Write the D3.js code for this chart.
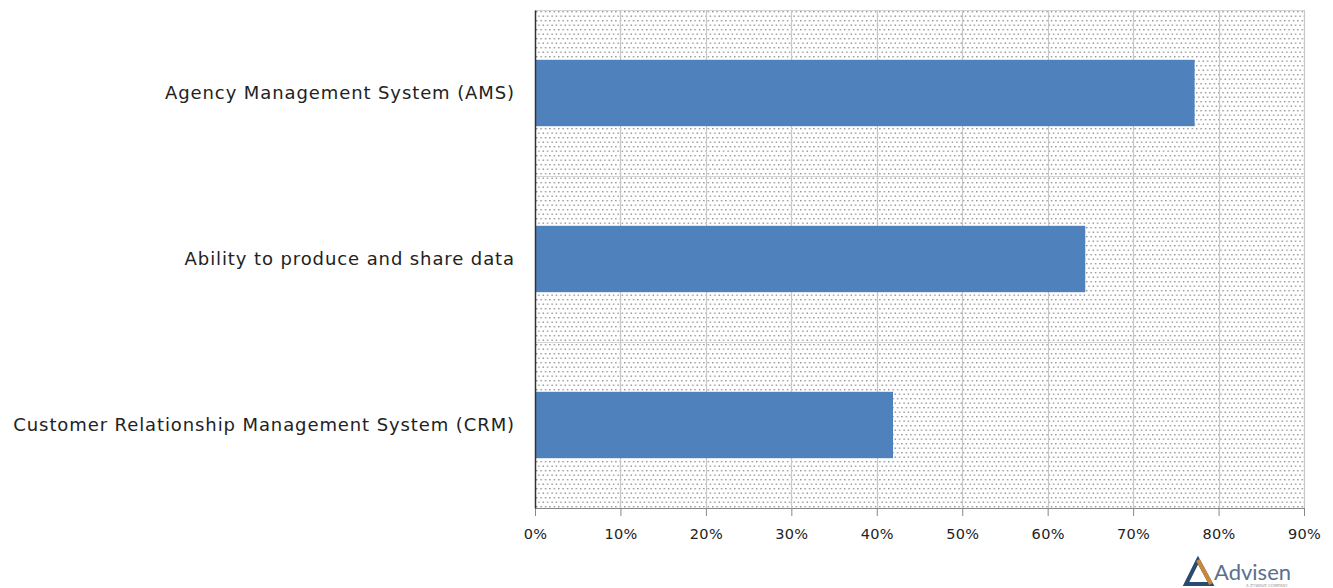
<!DOCTYPE html>
<html><head><meta charset="utf-8">
<script src="https://cdn.jsdelivr.net/npm/d3@7"></script>
<style>body{margin:0;background:#fff}svg{display:block}</style>
</head><body>
<svg id="c" width="1333" height="588"></svg>
<script>
const categories = ["Agency Management System (AMS)", "Ability to produce and share data", "Customer Relationship Management System (CRM)"];
const values = [77.2, 64.4, 41.9];
const tickValues = [0,10,20,30,40,50,60,70,80,90];

const svg = d3.select("#c");
const m = {left:535, right:1304, top:10, bottom:508};
const x = d3.scaleLinear().domain([0,90]).range([m.left, m.right]);
const y = d3.scaleBand().domain(categories).range([m.top, m.bottom]).paddingInner(0.6).paddingOuter(0.3);
const font = "'DejaVu Sans', sans-serif";

const defs = svg.append("defs");
const pat = defs.append("pattern").attr("id","dots").attr("patternUnits","userSpaceOnUse")
  .attr("width",4.4).attr("height",9).attr("x",m.left+1).attr("y",m.top+1);
pat.append("rect").attr("width",4.4).attr("height",9).attr("fill","#fff");
pat.append("rect").attr("x",0).attr("y",0).attr("width",1.4).attr("height",1.4).attr("fill","#909090");
pat.append("rect").attr("x",2.2).attr("y",4.5).attr("width",1.4).attr("height",1.4).attr("fill","#909090");

svg.append("rect").attr("x",m.left).attr("y",m.top).attr("width",m.right-m.left).attr("height",m.bottom-m.top)
  .attr("fill","url(#dots)");

// horizontal gridlines at band boundaries
const step = (m.bottom - m.top) / categories.length;
svg.append("g").selectAll("line").data(d3.range(categories.length)).join("line")
  .attr("x1",m.left).attr("x2",m.right)
  .attr("y1",d=>m.top+d*step+0.5).attr("y2",d=>m.top+d*step+0.5)
  .attr("stroke","#d4d4d4").attr("stroke-width",1.2);

// vertical gridlines
svg.append("g").selectAll("line").data(tickValues.slice(1)).join("line")
  .attr("x1",d=>Math.round(x(d))+0.5).attr("x2",d=>Math.round(x(d))+0.5)
  .attr("y1",m.top).attr("y2",m.bottom).attr("stroke","#c8c8c8").attr("stroke-width",1.2);

// bars
svg.append("g").selectAll("rect").data(categories).join("rect")
  .attr("x",x(0)).attr("y",d=>y(d)).attr("height",y.bandwidth())
  .attr("width",(d,i)=>x(values[i])-x(0)).attr("fill","#4f81bd");

// x axis
const xa = svg.append("g").attr("transform",`translate(0,${m.bottom})`)
  .call(d3.axisBottom(x).tickValues(tickValues).tickFormat(d=>d+"%").tickSize(8).tickSizeOuter(0));
xa.select(".domain").attr("stroke","#888");
xa.selectAll(".tick line").attr("stroke","#888");
xa.selectAll("text").attr("font-family",font).attr("font-size",14.5).attr("letter-spacing","0.3px").attr("fill","#222").attr("dy","1.35em");

// y axis
const ya = svg.append("g").attr("transform",`translate(${m.left},0)`)
  .call(d3.axisLeft(y).tickSize(0).tickPadding(20));
ya.select(".domain").attr("stroke","#333").attr("stroke-width",1.5);
ya.selectAll("text").attr("font-family",font).attr("font-size",18).attr("letter-spacing","0.9px").attr("fill","#222");

// logo
const lg = svg.append("g");
lg.append("path").attr("d","M1198,560 L1186,584 L1211,584 Z").attr("fill","none").attr("stroke","#2c4a6e").attr("stroke-width",4);
lg.append("path").attr("d","M1198,560 L1211,584").attr("stroke","#c8873a").attr("stroke-width",4);
lg.append("text").attr("x",1214).attr("y",580).attr("font-family","Lato, sans-serif").attr("font-size",22).attr("fill","#5a6f8e").text("Advisen");
lg.append("text").attr("x",1246).attr("y",587).attr("font-family",font).attr("font-size",4).attr("fill","#999").text("A ZYWAVE COMPANY");
</script>
</body></html>
